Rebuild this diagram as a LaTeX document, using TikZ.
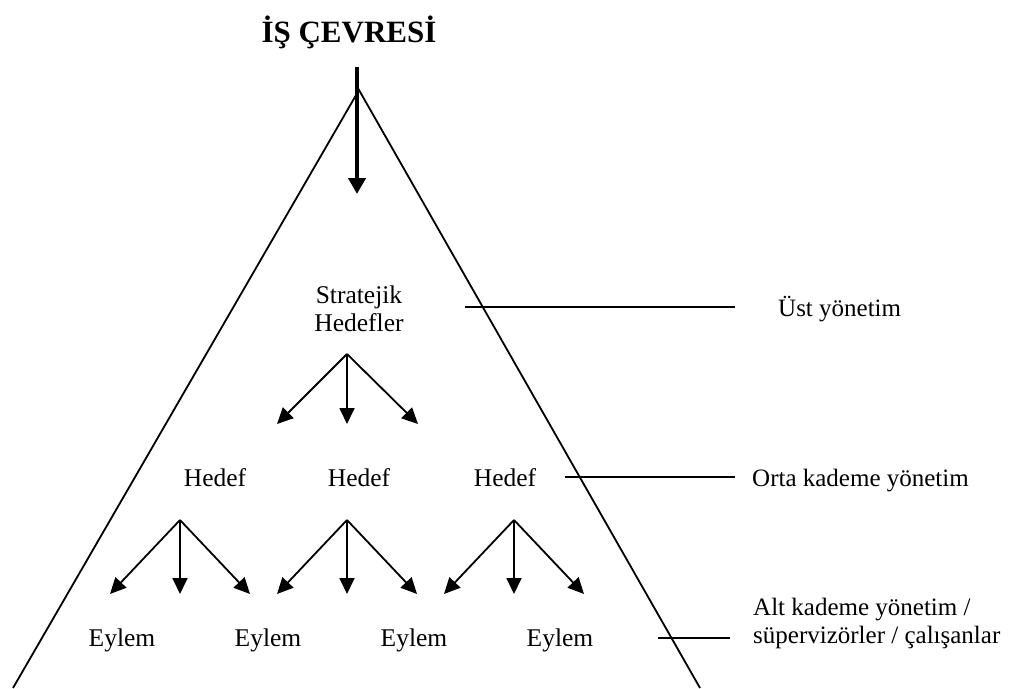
\documentclass[tikz,border=0pt]{standalone}
\usepackage{fontspec}
\setmainfont{Liberation Serif}
\usetikzlibrary{arrows.meta}
\begin{document}
\begin{tikzpicture}[x=1pt,y=-1pt,
  lbl/.style={anchor=base,inner sep=0pt,font=\fontsize{25.5}{29}\selectfont},
  side/.style={anchor=base west,inner sep=0pt,font=\fontsize{25}{28}\selectfont,align=left},
  fan/.style={line width=1.8pt,-{Triangle[length=16pt,width=15pt]}},
  tick/.style={line width=1.8pt},
  edge/.style={line width=1.8pt}]
\useasboundingbox (0,0) rectangle (1022,688);

% title and incoming arrow
\node[anchor=base,inner sep=0pt,font=\fontsize{31}{34}\selectfont\bfseries] (title) at (349,42) {İŞ ÇEVRESİ};
\coordinate (in0) at (357,67);
\coordinate (in1) at (357,194);
\draw[line width=4pt,-{Triangle[length=16pt,width=17pt]}] (in0) -- (in1);

% pyramid
\coordinate (apex) at (359,90);
\coordinate (bl) at (13,688);
\coordinate (br) at (700,688);
\draw[edge] (bl) -- (apex) -- (br);

% strategic goals
\node[lbl] (s1) at (359,303) {Stratejik};
\node[lbl] (s2) at (359,331) {Hedefler};

% goals
\node[lbl] (h1) at (215,486) {Hedef};
\node[lbl] (h2) at (359,486) {Hedef};
\node[lbl] (h3) at (505,486) {Hedef};

% actions
\node[lbl] (e1) at (122,646) {Eylem};
\node[lbl] (e2) at (268,646) {Eylem};
\node[lbl] (e3) at (414,646) {Eylem};
\node[lbl] (e4) at (560,646) {Eylem};

% fan from strategic goals to goals
\coordinate (f0) at (347,354);
\coordinate (f0a) at (277,424);
\coordinate (f0b) at (347,424);
\coordinate (f0c) at (418,424);
\draw[fan] (f0) -- (f0a);
\draw[fan] (f0) -- (f0b);
\draw[fan] (f0) -- (f0c);

% fans from goals to actions
\foreach \n/\x in {1/180,2/347,3/514}{
  \coordinate (g\n) at (\x,520);
  \coordinate (g\n a) at (\x-70,594);
  \coordinate (g\n b) at (\x,594);
  \coordinate (g\n c) at (\x+70,594);
  \draw[fan] (g\n) -- (g\n a);
  \draw[fan] (g\n) -- (g\n b);
  \draw[fan] (g\n) -- (g\n c);
}

% management levels
\node[side] (l1) at (778,316) {Üst yönetim};
\node[side] (l2) at (752,486) {Orta kademe yönetim};
\node[side] (l3) at (753,643) {Alt kademe yönetim /\\süpervizörler / çalışanlar};

\coordinate (t1a) at (465,307);
\coordinate (t1b) at (735,307);
\coordinate (t2a) at (565,477);
\coordinate (t2b) at (735,477);
\coordinate (t3a) at (658,638);
\coordinate (t3b) at (730,638);
\draw[tick] (t1a) -- (t1b);
\draw[tick] (t2a) -- (t2b);
\draw[tick] (t3a) -- (t3b);
\end{tikzpicture}
\end{document}
